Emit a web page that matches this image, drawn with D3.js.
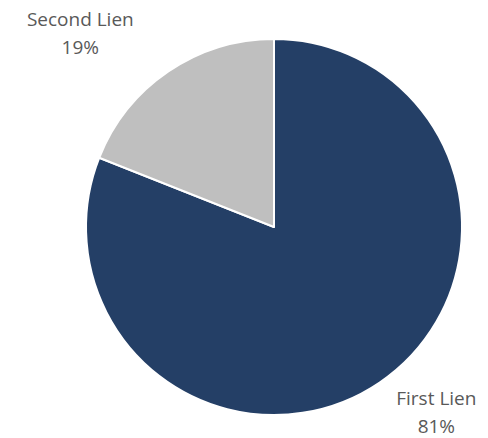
<!DOCTYPE html>
<html>
<head>
<meta charset="utf-8">
<script src="https://cdn.jsdelivr.net/npm/d3@7"></script>
<style>
  body { margin: 0; background: #fff; }
  svg { display: block; }
  .label { font-family: "Open Sans", "Noto Sans", sans-serif; font-size: 19px; fill: #595959; }
</style>
</head>
<body>
<div id="chart"></div>
<script>
// chart data
const categories = ['First Lien', 'Second Lien'];
const shares = [81, 19];
const colors = ['#243f66', '#bfbfbf'];

const width = 488;
const height = 438;
const cx = 274;
const cy = 227;
const radius = 188;

const svg = d3.select('#chart')
  .append('svg')
  .attr('width', width)
  .attr('height', height);

const data = categories.map((c, i) => ({ name: c, value: shares[i], color: colors[i] }));

const pie = d3.pie()
  .sort(null)
  .value((d) => d.value);

const arc = d3.arc()
  .innerRadius(0)
  .outerRadius(radius);

const g = svg.append('g')
  .attr('transform', `translate(${cx}, ${cy})`);

const arcs = pie(data);

g.selectAll('path')
  .data(arcs)
  .enter()
  .append('path')
  .attr('d', arc)
  .attr('fill', (d) => d.data.color)
  .attr('stroke', '#fff')
  .attr('stroke-width', 2)
  .attr('stroke-linejoin', 'round');

// labels sit just outside the rim, on the side the slice faces
const outer = d3.arc().innerRadius(radius + 14).outerRadius(radius + 14);
const lineGap = 28;

arcs.forEach((d) => {
  const [px, py] = outer.centroid(d);
  const mid = (d.startAngle + d.endAngle) / 2;
  const right = Math.sin(mid) > 0;
  const below = Math.cos(mid) < 0;

  const t = g.append('text')
    .attr('class', 'label')
    .attr('text-anchor', 'middle');
  t.append('tspan').text(d.data.name);
  t.append('tspan').text(`${d.data.value}%`);

  const w = t.node().getBBox().width;
  const x = right ? px + w / 2 - 10 : px - w / 2 - 8;
  const y1 = below ? py + 11 : py - 34;
  t.selectAll('tspan')
    .attr('x', x)
    .attr('y', (_, i) => y1 + i * lineGap);
});
</script>
</body>
</html>
